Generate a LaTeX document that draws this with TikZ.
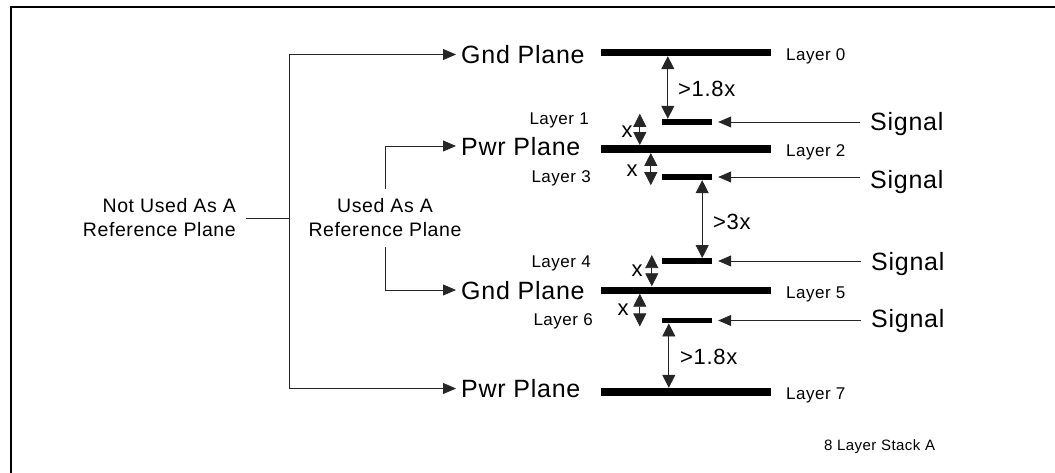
\documentclass[tikz,border=0pt]{standalone}
\usepackage{fontspec}
\setmainfont{Liberation Sans}[LetterSpace=3]
\usetikzlibrary{arrows.meta,calc}
\begin{document}
\begin{tikzpicture}[x=1pt,y=-1pt,
  wide/.style={fill=black,draw=none,inner sep=0pt,minimum width=170pt,minimum height=#1},
  short/.style={fill=black,draw=none,inner sep=0pt,minimum width=50pt,minimum height=#1},
  txt/.style={inner sep=0pt,text depth=0pt},
  plane/.style={txt,inner xsep=5pt,anchor=west,font=\fontsize{25}{30}\selectfont},
  sig/.style={txt,inner xsep=10pt,anchor=west,font=\fontsize{25}{30}\selectfont},
  lay/.style={txt,font=\fontsize{17}{20}\selectfont},
  dimt/.style={txt,font=\fontsize{22}{26}\selectfont},
  reft/.style={inner xsep=0pt,inner ysep=10pt,font=\fontsize{19.5}{24}\selectfont},
  conn/.style={draw=black!85,line width=0.8pt},
  arr/.style={conn,-{Triangle[length=13pt,width=11pt]}},
  dim/.style={conn,{Triangle[length=13pt,width=13pt]}-{Triangle[length=13pt,width=13pt]}},
  frame/.style={line width=2pt}]
\useasboundingbox (0,0) rectangle (1055,473);
\draw[frame] (1057,7) -- (11,7) -- (11,475);

% layer bars
\node[wide=7pt] (b0) at (686,52.5) {};
\node[short=6pt] (b1) at (687,122) {};
\node[wide=7.5pt] (b2) at (686,149) {};
\node[short=6pt] (b3) at (687,177) {};
\node[short=5.5pt] (b4) at (687,261) {};
\node[wide=7pt] (b5) at (686,290) {};
\node[short=5.5pt] (b6) at (687,320.5) {};
\node[wide=8pt] (b7) at (686,392) {};

% plane names
\node[plane] (g0) at (456,54.5) {Gnd Plane};
\node[plane] (p2) at (456,146) {Pwr Plane};
\node[plane] (g5) at (456,290) {Gnd Plane};
\node[plane] (p7) at (456,388.5) {Pwr Plane};

% layer labels right
\node[lay,anchor=west] (l0) at (786,54.5) {Layer 0};
\node[lay,anchor=west] (l2) at (786,150.5) {Layer 2};
\node[lay,anchor=west] (l5) at (786,292.5) {Layer 5};
\node[lay,anchor=west] (l7) at (786,393.5) {Layer 7};
% layer labels left
\node[lay,anchor=east] (l1) at (589,119) {Layer 1};
\node[lay,anchor=east] (l3) at (591,177) {Layer 3};
\node[lay,anchor=east] (l4) at (591,262) {Layer 4};
\node[lay,anchor=east] (l6) at (593,320) {Layer 6};

% signals
\node[sig] (s1) at (860,121) {Signal};
\node[sig] (s3) at (860,179) {Signal};
\node[sig] (s4) at (861,261) {Signal};
\node[sig] (s6) at (861,318) {Signal};
\draw[arr] (b1.east -| s1.west) -- ([xshift=6pt]b1.east);
\draw[arr] (b3.east -| s3.west) -- ([xshift=6pt]b3.east);
\draw[arr] (b4.east -| s4.west) -- ([xshift=6pt]b4.east);
\draw[arr] (b6.east -| s6.west) -- ([xshift=6pt]b6.east);

% dimension arrows
\coordinate (a01) at ([xshift=6pt]b1.north west);
\draw[dim] (a01 |- b0.south) -- (a01);
\coordinate (a12) at ([xshift=-22pt,yshift=5pt]b1.north west);
\draw[dim] (a12) -- (a12 |- b2.north);
\coordinate (a23) at ([xshift=-11pt,yshift=-5pt]b3.south west);
\draw[dim] (a23 |- b2.south) -- (a23);
\coordinate (a34) at ([xshift=-10pt]b3.south east);
\draw[dim] (a34) -- (a34 |- b4.north);
\coordinate (a45) at ([xshift=-10pt,yshift=3pt]b4.north west);
\draw[dim] (a45) -- (a45 |- b5.north);
\coordinate (a56) at ([xshift=-22pt,yshift=-3pt]b6.south west);
\draw[dim] (a56 |- b5.south) -- (a56);
\coordinate (a67) at ([xshift=7pt]b6.south west);
\draw[dim] (a67) -- (a67 |- b7.north);

% dimension labels
\node[dimt,anchor=west] (t01) at (678,89) {>1.8x};
\node[dimt] (t12) at (627,132) {x};
\node[dimt] (t23) at (632,171) {x};
\node[dimt,anchor=west] (t34) at (713,222) {>3x};
\node[dimt] (t45) at (637,271) {x};
\node[dimt] (t56) at (623,310) {x};
\node[dimt,anchor=west] (t67) at (680,357) {>1.8x};

% left reference labels
\node[reft,align=right,anchor=east,inner xsep=10pt] (nu) at (246,218) {Not Used As A\\Reference Plane};
\coordinate (jn) at (289,218);
\draw[conn] (nu.east) -- (jn);
\draw[arr] (jn) |- (g0.west);
\draw[arr] (jn) |- (p7.west);

\node[reft,align=center] (ua) at (385,218) {Used As A\\Reference Plane};
\draw[arr] (ua.north) |- (p2.west);
\draw[arr] (ua.south) |- (g5.west);

% caption
\node[txt,anchor=west,font=\fontsize{15}{18}\selectfont] (cap) at (824,445) {8 Layer Stack A};
\end{tikzpicture}
\end{document}
